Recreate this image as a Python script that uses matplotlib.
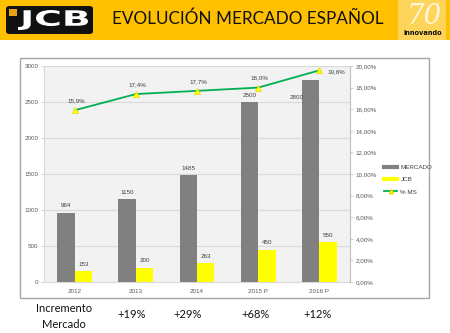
import matplotlib
matplotlib.use("Agg")
import matplotlib.pyplot as plt
from matplotlib.patches import Rectangle, FancyBboxPatch, PathPatch
from matplotlib.lines import Line2D
from matplotlib.textpath import TextPath
from matplotlib.font_manager import FontProperties
from matplotlib.transforms import Affine2D, IdentityTransform
import numpy as np

# ---- data ----
years = ["2012", "2013", "2014", "2015 P", "2016 P"]
mercado = [964, 1150, 1485, 2500, 2800]
jcb = [153, 200, 263, 450, 550]
cuota = [15.9, 17.4, 17.7, 18.0, 19.6]
incremento = ["+19%", "+29%", "+68%", "+12%"]

W, H = 450, 333
fig = plt.figure(figsize=(W / 100, H / 100), dpi=100)
fig.patch.set_facecolor("white")


def fx(x):
    return x / W


def fy(y):
    return 1 - y / H


# ---- header banner ----
fig.patches.append(Rectangle((0, fy(40)), 1, 40 / H, transform=fig.transFigure,
                             facecolor="#FFC000", edgecolor="none", zorder=-2))
# JCB logo: black plate with wide white lettering
fig.patches.append(FancyBboxPatch((fx(6), fy(34)), 87 / W, 28 / H,
                                  boxstyle="round,pad=0,rounding_size=0.008",
                                  transform=fig.transFigure, facecolor="#111111",
                                  edgecolor="none", zorder=-1))
fig.patches.append(Rectangle((fx(9), fy(16)), 8 / W, 7 / H, transform=fig.transFigure,
                             facecolor="#E8A317", edgecolor="none", zorder=-1))
logo_path = TextPath((0, 0), "JCB", size=1,
                     prop=FontProperties(family="DejaVu Sans", weight="bold"))
ext = logo_path.get_extents()
logo_tf = (Affine2D().translate(-ext.x0, -ext.y0)
           .scale(70 / ext.width, 20 / ext.height)
           .translate(18, H - 30))
logo_patch = PathPatch(logo_tf.transform_path(logo_path), facecolor="white",
                       edgecolor="none", transform=IdentityTransform())
fig.patches.append(logo_patch)
# title
fig.text(fx(112), fy(19), "EVOLUCIÓN MERCADO ESPAÑOL", color="#111111", fontsize=12.3,
         family="Lato", ha="left", va="center")
# 70 aniversario badge
fig.patches.append(Rectangle((fx(398), fy(40)), 48 / W, 40 / H, transform=fig.transFigure,
                             facecolor="#FFD45A", edgecolor="none", zorder=-1))
fig.text(fx(424), fy(16), "70", color="#FFF6D8", fontsize=20, family="DejaVu Serif",
         style="italic", ha="center", va="center")
fig.text(fx(423), fy(33), "innovando", color="#111111", fontsize=4.8, fontweight="bold",
         family="DejaVu Sans", ha="center", va="center")

# ---- chart frame ----
fig.patches.append(Rectangle((fx(20), fy(298)), 409 / W, 240 / H, transform=fig.transFigure,
                             facecolor="white", edgecolor="#A6A6A6", linewidth=1.0,
                             zorder=-1))

ax = fig.add_axes([fx(44), fy(282), 306 / W, 216 / H])
ax.set_zorder(1)
ax.set_facecolor("#F2F2F2")
x = np.arange(len(years))
bw = 0.283
ax.bar(x - bw / 2, mercado, bw, color="#808080", zorder=2, label="MERCADO")
ax.bar(x + bw / 2, jcb, bw, color="#FFFF00", zorder=2, label="JCB")
ax.set_xlim(-0.5, len(years) - 0.5)
ax.set_ylim(0, 3000)
ax.set_yticks(range(0, 3001, 500))
ax.grid(axis="y", color="#D9D9D9", linewidth=0.8, zorder=0)
ax.set_axisbelow(True)
ax.set_xticks(x)
ax.set_xticklabels(years)
for s in ["top", "right"]:
    ax.spines[s].set_visible(False)
ax.spines["left"].set_color("#D9D9D9")
ax.spines["bottom"].set_color("#D9D9D9")
ax.tick_params(axis="both", labelsize=4.5, colors="#595959", length=2, width=0.5,
               pad=2, color="#BFBFBF")
ax.tick_params(axis="x", length=0, pad=5)
for lab in ax.get_xticklabels() + ax.get_yticklabels():
    lab.set_family("Liberation Sans")

lab_kw = dict(fontsize=4.5, color="#404040", family="Liberation Sans", ha="center",
              va="bottom", zorder=5)
for i, v in enumerate(mercado):
    if i == len(mercado) - 1:
        ax.annotate(str(v), (x[i] - bw, v), xytext=(-4, -14), textcoords="offset points",
                    **lab_kw)
    else:
        ax.annotate(str(v), (x[i] - bw / 2, v), xytext=(0, 3), textcoords="offset points",
                    **lab_kw)
for i, v in enumerate(jcb):
    ax.annotate(str(v), (x[i] + bw / 2, v), xytext=(0, 3), textcoords="offset points",
                **lab_kw)

ax2 = ax.twinx()
ax2.set_zorder(2)
ax2.set_ylim(0, 20)
ax2.set_yticks(np.arange(0, 20.1, 2))
ax2.set_yticklabels([f"{t:.2f}%".replace(".", ",") for t in np.arange(0, 20.1, 2)])
ax2.plot(x, cuota, color="#00B050", linewidth=1.3, marker="^", markersize=5,
         markerfacecolor="#FFFF00", markeredgecolor="#E6D800", markeredgewidth=0.5,
         zorder=4, label="% MS")
for s in ["top", "left", "bottom"]:
    ax2.spines[s].set_visible(False)
ax2.spines["right"].set_color("#BFBFBF")
ax2.tick_params(axis="y", labelsize=4.5, colors="#595959", length=2, width=0.5, pad=2,
                color="#BFBFBF")
for lab in ax2.get_yticklabels():
    lab.set_family("Liberation Sans")
for i, v in enumerate(cuota):
    txt = f"{v:.1f}%".replace(".", ",")
    if i == len(cuota) - 1:
        ax2.annotate(txt, (x[i], v), xytext=(12, -1), textcoords="offset points",
                     fontsize=4.5, color="#404040", family="Liberation Sans",
                     ha="center", va="center")
    else:
        ax2.annotate(txt, (x[i], v), xytext=(1, 5), textcoords="offset points",
                     fontsize=4.5, color="#404040", family="Liberation Sans",
                     ha="center", va="bottom")

# legend
handles = [Line2D([], [], color="#808080", linewidth=3),
           Line2D([], [], color="#FFFF00", linewidth=3),
           Line2D([], [], color="#00B050", linewidth=1.3, marker="^", markersize=3,
                  markerfacecolor="#FFFF00", markeredgecolor="#E6D800")]
fig.legend(handles, ["MERCADO", "JCB", "% MS"], loc="upper left",
           bbox_to_anchor=(fx(378), fy(159)), frameon=False, handlelength=2.2,
           handletextpad=0.5, labelspacing=1.1, prop={"family": "Liberation Sans", "size": 4.5},
           labelcolor="#404040")

# bottom row: market growth
fig.text(fx(64), fy(309), "Incremento", fontsize=8, family="Lato", ha="center",
         va="center", color="#111111")
fig.text(fx(64), fy(324), "Mercado", fontsize=8, family="Lato", ha="center",
         va="center", color="#111111")
for xp, t in zip([132, 188, 256, 318], incremento):
    fig.text(fx(xp), fy(314), t, fontsize=8, family="Lato", ha="center", va="center",
             color="#111111")

fig.savefig("out.png", dpi=100)
